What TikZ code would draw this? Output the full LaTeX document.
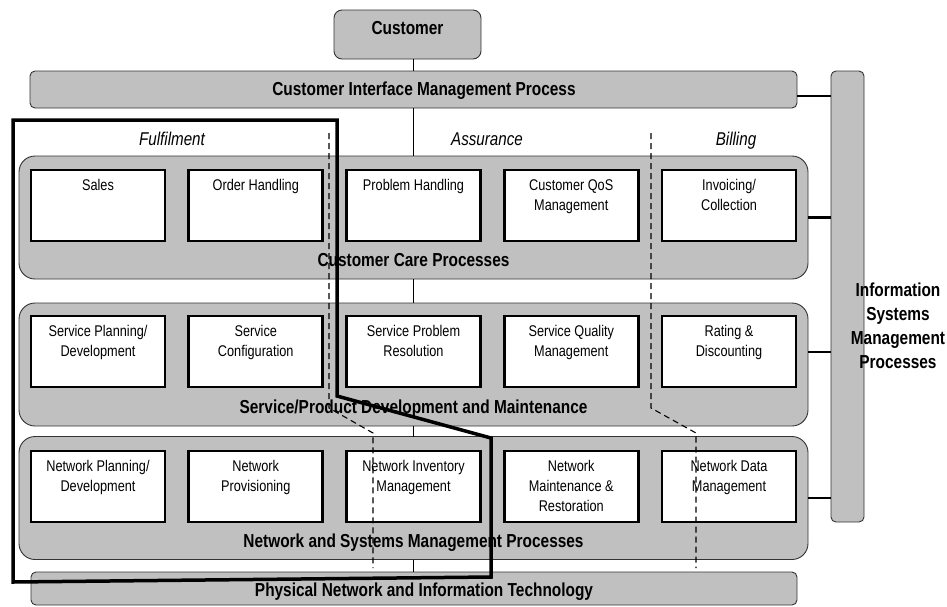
\documentclass[tikz,border=0pt]{standalone}
\usepackage{fontspec}
\setmainfont{Liberation Sans}[FakeStretch=0.82]
\usepackage{tikz}
\usetikzlibrary{positioning}

\definecolor{procgray}{HTML}{C0C0C0}

\begin{document}
\begin{tikzpicture}[x=1pt, y=-1pt,
  every node/.style = {inner sep=0pt, outer sep=0pt},
  bigtext/.style = {font=\fontsize{18.8}{24}\selectfont\bfseries},
  smalltext/.style = {font=\fontsize{15.5}{20}\selectfont},
  head/.style = {font=\fontsize{18.5}{24}\selectfont\itshape, anchor=base},
  greybar/.style = {draw=black!80, fill=procgray, line width=0.9pt,
    rounded corners=5pt},
  panel/.style = {greybar, rounded corners=16pt,
    minimum width=789pt, minimum height=123pt,
    label={[bigtext, anchor=base, yshift=12.5pt]south:#1}},
  proc/.style = {draw, fill=white, line width=2.8pt,
    minimum width=134pt, minimum height=71pt,
    label={[smalltext, align=center, anchor=north, yshift=-9.5pt]north:#1}},
  spine/.style = {line width=0.9pt},
  tie/.style = {line width=2.5pt},
  column/.style = {line width=1.1pt, dash pattern=on 6pt off 4pt},
  fulfil/.style = {line width=3.5pt, line join=miter},
  node distance=23.75pt]
  \useasboundingbox (0,0) rectangle (947,606);

  % bars and panels
  \node[greybar, rounded corners=8pt, minimum width=147pt, minimum height=49pt,
    label={[bigtext, anchor=north, yshift=-11.2pt]north:Customer}] (customer) at (407.5,34.5) {};
  \node[greybar, minimum width=767pt, minimum height=37pt,
    label={[bigtext, xshift=10.5pt, yshift=-1pt]center:Customer Interface Management Process}] (cimp) at (413.5,89.5) {};
  \node[greybar, minimum width=33pt, minimum height=451pt] (ismp) at (847.5,296.5) {};
  \node[panel=Customer Care Processes] (care) at (413.5,217.5) {};
  \node[panel=Service/Product Development and Maintenance] (service) at (413.5,364.5) {};
  \node[panel=Network and Systems Management Processes] (network) at (413.5,498) {};
  \node[greybar, minimum width=766pt, minimum height=33pt,
    label={[bigtext, xshift=10pt, yshift=-3.4pt]center:Physical Network and Information Technology}] (physical) at (414,588.5) {};

  % column headings
  \node[head] (fulfilment) at (172,145) {Fulfilment};
  \node[head] (assurance) at (487,145) {Assurance};
  \node[head] (billing) at (736,145) {Billing};

  % process boxes
  \node[proc=Sales] (sales) at (98,205.5) {};
  \node[proc=Order Handling, right=of sales] (order) {};
  \node[proc=Problem Handling, right=of order] (problem) {};
  \node[proc={Customer QoS\\Management}, right=of problem] (qos) {};
  \node[proc={Invoicing/\\Collection}, right=of qos] (invoicing) {};

  \node[proc={Service Planning/\\Development}] (svcplan) at (98,351.5) {};
  \node[proc={Service\\Configuration}, right=of svcplan] (svcconf) {};
  \node[proc={Service Problem\\Resolution}, right=of svcconf] (svcprob) {};
  \node[proc={Service Quality\\Management}, right=of svcprob] (svcqual) {};
  \node[proc={Rating \&\\Discounting}, right=of svcqual] (rating) {};

  \node[proc={Network Planning/\\Development}] (netplan) at (98,486.5) {};
  \node[proc={Network\\Provisioning}, right=of netplan] (netprov) {};
  \node[proc={Network Inventory\\Management}, right=of netprov] (netinv) {};
  \node[proc={Network\\Maintenance \&\\Restoration}, right=of netinv] (netmaint) {};
  \node[proc={Network Data\\Management}, right=of netmaint] (netdata) {};

  \node[bigtext, align=center, anchor=north] (ismptext) at (898,283)
    {Information\\Systems\\Management\\Processes};

  % links
  \coordinate (spine) at (413,0);
  \draw[spine] (customer.south -| spine) -- (cimp.north -| spine)
    (cimp.south -| spine) -- (care.north -| spine)
    (care.south -| spine) -- (service.north -| spine)
    (service.south -| spine) -- (network.north -| spine)
    (network.south -| spine) -- (physical.north -| spine);
  \draw[tie] ([yshift=-6.5pt]cimp.east) coordinate (t1) -- (t1 -| ismp.west);
  \draw[tie] (care.east) -- (care.east -| ismp.west);
  \draw[tie] ([yshift=12.5pt]service.east) coordinate (t2) -- (t2 -| ismp.west);
  \draw[tie] (network.east) -- (network.east -| ismp.west);

  % column borders
  \draw[column] (329,133) -- (329,408) -- (373,433) -- (373,568);
  \draw[column] (651,133) -- (651,408) -- (696,433) -- (696,568);
  \draw[fulfil] (13,120) -- (337,120) -- (337,396) -- (491,438)
    -- (491,577) -- (13,582) -- cycle;
\end{tikzpicture}
\end{document}
